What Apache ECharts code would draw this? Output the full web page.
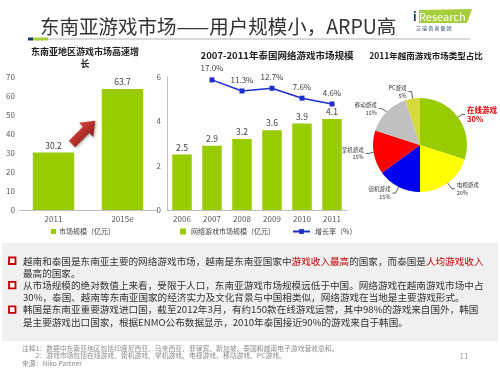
<!DOCTYPE html>
<html><head><meta charset="utf-8">
<script src="https://cdn.jsdelivr.net/npm/echarts@6/dist/echarts.min.js"></script>
<style>html,body{margin:0;padding:0;background:#fff}#c{width:500px;height:375px}</style>
</head><body><div id="c"></div>
<script>
var FONT = '"Noto Sans CJK SC", "Noto Sans", sans-serif';
// Chart 1: SEA market
var seaCategories = ['2011', '2015e'];
var seaMarket = [30.2, 63.7];
var seaTicks = [0, 10, 20, 30, 40, 50, 60, 70];
// Chart 2: Thailand
var thYears = ['2006', '2007', '2008', '2009', '2010', '2011'];
var thMarket = [2.5, 2.9, 3.2, 3.6, 3.9, 4.1];
var thGrowth = [null, 17.0, 11.3, 12.7, 7.6, 4.6];
// Chart 3: Vietnam
var vnTypes = ['在线游戏', '电视游戏', '街机游戏', '掌机游戏', '移动游戏', 'PC游戏'];
var vnShare = [30, 20, 15, 15, 15, 5];
var vnColors = ['#99cc00', '#ffff00', '#0000f0', '#ff0000', '#c0c0c0', '#d6d93c'];

var GREEN = '#99cc00';
var chart = echarts.init(document.getElementById('c'));

var bullets = [
  '越南和泰国是东南亚主要的网络游戏市场，越南是东南亚国家中{r|游戏收入最高}的国家，而泰国是{r|人均游戏收入}\n最高的国家。',
  '从市场规模的绝对数值上来看，受限于人口，东南亚游戏市场规模远低于中国。网络游戏在越南游戏市场中占\n30%，泰国、越南等东南亚国家的经济实力及文化背景与中国相类似，网络游戏在当地是主要游戏形式。',
  '韩国是东南亚重要游戏进口国，截至2012年3月，有约150款在线游戏运营，其中98%的游戏来自国外，韩国\n是主要游戏出口国家，根据ENMO公布数据显示，2010年泰国接近90%的游戏来自于韩国。'
];
var notes = [
  '注释1：数据中东南亚地区包括印度尼西亚、马来西亚、菲律宾、新加坡、泰国和越南电子游戏营收总和。',
  '　　2：游戏市场包括在线游戏、街机游戏、掌机游戏、电视游戏、移动游戏、PC游戏。',
  '来源：Niko Partner'
];

var graphics = [
  // header
  {type:'text', x:40, y:27, style:{text:'东南亚游戏市场——用户规模小，ARPU高', font:'19.5px '+FONT, fill:'#333', textVerticalAlign:'middle'}},
  {type:'rect', shape:{x:28, y:38, width:442, height:2}, style:{fill:'#d9d9d9'}},
  {type:'rect', shape:{x:28, y:37.5, width:5, height:3}, style:{fill:'#1f3864'}},
  {type:'rect', shape:{x:33, y:37.5, width:15, height:3}, style:{fill:'#a6ce39'}},
  // logo
  {type:'polygon', shape:{points:[[419,10],[472,9],[467,23],[419,23]]}, style:{fill:'#a6ce39'}},
  {type:'text', x:413, y:16.5, style:{text:'i', font:'bold 12px '+FONT, fill:'#1f3864', textVerticalAlign:'middle'}},
  {type:'text', x:419, y:16.5, style:{text:'Research', font:'11px '+FONT, fill:'#fff', textVerticalAlign:'middle'}},
  {type:'text', x:416, y:28, style:{text:'艾 瑞 咨 询 集 团', font:'5px '+FONT, fill:'#1f3864', textVerticalAlign:'middle'}},
  // chart titles
  {type:'text', x:85, y:58, style:{text:'东南亚地区游戏市场高速增\n长', font:'bold 9px '+FONT, fill:'#222', align:'center', textAlign:'center', textVerticalAlign:'middle', lineHeight:12}},
  {type:'text', x:277, y:55, style:{text:'2007-2011年泰国网络游戏市场规模', font:'bold 9.5px '+FONT, fill:'#222', textAlign:'center', textVerticalAlign:'middle'}},
  {type:'text', x:426, y:56, style:{text:'2011年越南游戏市场类型占比', font:'bold 8.5px '+FONT, fill:'#222', textAlign:'center', textVerticalAlign:'middle'}},
  // arrow
  {type:'polygon', x:84, y:132, rotation:Math.PI/4,
   shape:{points:[[-17,-4.5],[3,-4.5],[3,-10],[16,0],[3,10],[3,4.5],[-17,4.5]]},
   style:{fill:new echarts.graphic.LinearGradient(0,0,0,1,[{offset:0,color:'#d9453a'},{offset:1,color:'#8e1c18'}]), shadowBlur:3, shadowColor:'rgba(0,0,0,0.35)', shadowOffsetX:1, shadowOffsetY:1}},
  // grey box
  {type:'rect', shape:{x:2, y:243, width:496, height:98}, style:{fill:'#f0f0f0'}},
  // page number
  {type:'text', x:464, y:356, style:{text:'11', font:'8px '+FONT, fill:'#a0a0a0', textAlign:'center', textVerticalAlign:'middle'}}
];
var lineY0 = 261, lineStep = 12.2;
bullets.forEach(function(t, i){
  var y = lineY0 + lineStep * 2 * i;
  graphics.push({type:'rect', shape:{x:9, y:y-3.5, width:6.5, height:6.5}, style:{fill:'#fff', stroke:'#c00000', lineWidth:1.8}});
  graphics.push({type:'text', x:23, y:y - lineStep/2, style:{text:t, font:'9.6px '+FONT, fill:'#333', lineHeight:lineStep, rich:{r:{fill:'#c00000', font:'9.6px '+FONT, lineHeight:lineStep}}}});
});
notes.forEach(function(t, i){
  graphics.push({type:'text', x:22, y:348 + i*7.7, style:{text:t, font:'6.8px '+FONT, fill:'#8c8c8c', textVerticalAlign:'middle'}});
});

var axisLabelStyle = {fontSize:8, color:'#595959', fontFamily:FONT};

var option = {
  animation:false,
  textStyle:{fontFamily:FONT},
  grid:[
    {left:19, right:343, top:77, bottom:165},
    {left:167, right:153, top:77, bottom:165}
  ],
  xAxis:[
    {type:'category', gridIndex:0, data:seaCategories, axisLine:{lineStyle:{color:'#bfbfbf'}}, axisTick:{show:false}, axisLabel:Object.assign({margin:5}, axisLabelStyle)},
    {type:'category', gridIndex:1, data:thYears, axisLine:{lineStyle:{color:'#bfbfbf'}}, axisTick:{show:false}, axisLabel:Object.assign({margin:5}, axisLabelStyle)}
  ],
  yAxis:[
    {type:'value', gridIndex:0, min:seaTicks[0], max:seaTicks[seaTicks.length-1], interval:10, axisLine:{show:false}, axisTick:{show:false}, splitLine:{show:false}, axisLabel:Object.assign({margin:4}, axisLabelStyle)},
    {type:'value', gridIndex:1, min:0, max:6, interval:2, axisLine:{show:true, lineStyle:{color:'#bfbfbf'}}, axisTick:{show:false}, splitLine:{show:false}, axisLabel:Object.assign({margin:6}, axisLabelStyle)},
    {type:'value', gridIndex:1, min:-50, max:18.5, show:false, splitLine:{show:false}}
  ],
  legend:[
    {data:['市场规模（亿元）'], left:46, top:223, itemWidth:5, itemHeight:5, itemGap:4, icon:'rect', textStyle:{fontSize:7, color:'#404040', padding:[0,0,0,-2]}},
    {data:['网络游戏市场规模（亿元）'], left:175, top:223, itemWidth:6, itemHeight:6, icon:'rect', textStyle:{fontSize:7, color:'#404040'}},
    {data:['增长率（%）'], left:287, top:223, itemWidth:17, itemHeight:6, textStyle:{fontSize:7, color:'#404040'}}
  ],
  series:[
    {type:'bar', name:'市场规模（亿元）', xAxisIndex:0, yAxisIndex:0, data:seaMarket, barWidth:'60%', itemStyle:{color:GREEN},
     label:{show:true, position:'top', distance:3, fontSize:8.5, color:'#404040', formatter:function(p){return p.value.toFixed(1);}}},
    {type:'bar', name:'网络游戏市场规模（亿元）', xAxisIndex:1, yAxisIndex:1, data:thMarket, barWidth:'65%', itemStyle:{color:GREEN},
     label:{show:true, position:'top', distance:3, fontSize:8.5, color:'#404040', formatter:function(p){return p.value.toFixed(1);}}},
    {type:'line', name:'增长率（%）', xAxisIndex:1, yAxisIndex:2, data:thGrowth, symbol:'rect', symbolSize:5, itemStyle:{color:'#1c2fcc'}, lineStyle:{color:'#1c2fcc', width:1.5},
     label:{show:true, position:'top', distance:5, fontSize:8, color:'#404040', formatter:function(p){return p.value.toFixed(1)+'%';}}},
    {type:'pie', name:'越南', center:[420,145], radius:47, startAngle:90, clockwise:true,
     data:vnTypes.map(function(n, i){
       var d = {name:n, value:vnShare[i], itemStyle:{color:vnColors[i]}};
       if (i === 0) {
         d.label = {fontSize:7.5, color:'#e00000', fontWeight:'bold', lineHeight:9.5, overflow:'none'};
         d.labelLine = {length:5, length2:3};
       }
       return d;
     }),
     label:{show:true, position:'outside', formatter:'{b}\n{c}%', fontSize:5.5, color:'#333', lineHeight:7.5, overflow:'none', distanceToLabelLine:2},
     labelLine:{show:true, length:7, length2:3, lineStyle:{color:'#333', width:0.8}}}
  ],
  graphic:graphics
};
chart.setOption(option);
</script></body></html>
